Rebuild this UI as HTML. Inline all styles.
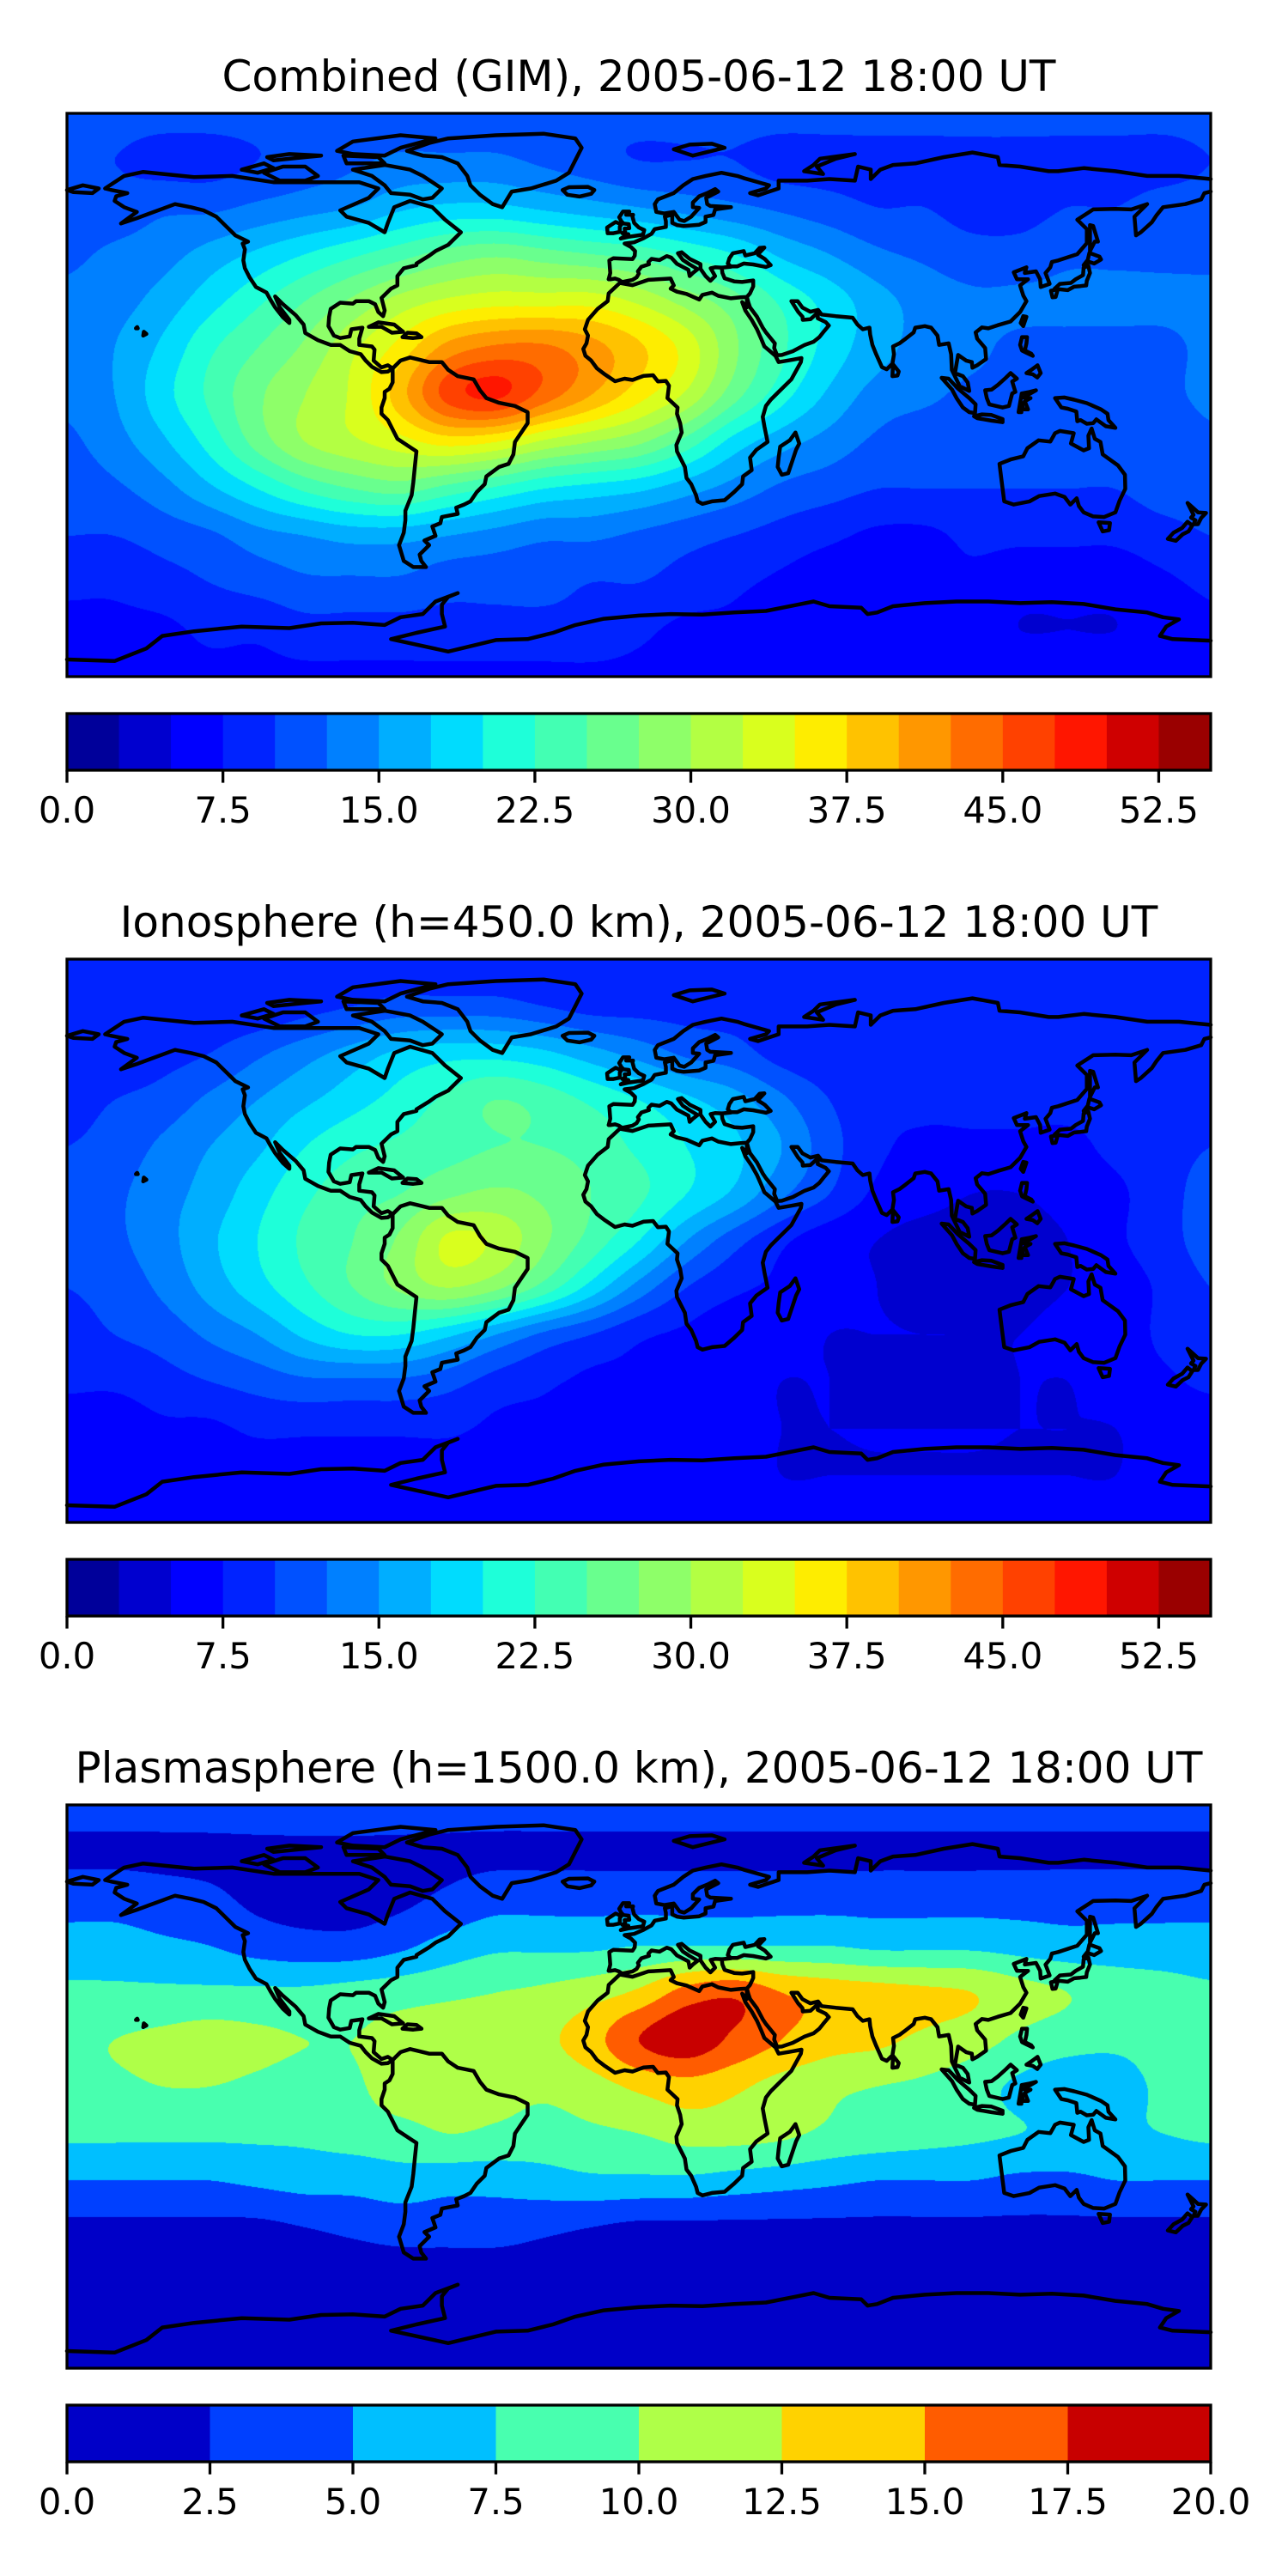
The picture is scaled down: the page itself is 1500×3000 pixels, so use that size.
<!DOCTYPE html>
<html><head><meta charset="utf-8">
<style>
html,body{margin:0;padding:0;background:#fff;}
#wrap{position:relative;width:1500px;height:3000px;overflow:hidden;}
canvas{position:absolute;left:78px;}
svg{position:absolute;left:0;top:0;}
text{font-family:"DejaVu Sans","Liberation Sans",sans-serif;fill:#000;}
</style></head>
<body>
<div id="wrap">
<canvas id="c0" width="1332" height="656" style="top:132px"></canvas>
<canvas id="c1" width="1332" height="656" style="top:1117px"></canvas>
<canvas id="c2" width="1332" height="656" style="top:2102px"></canvas>
<svg id="ov" width="1500" height="3000"></svg>
</div>
<script>
// ---- data ----
const titles = ["Combined (GIM), 2005-06-12 18:00 UT","Ionosphere  (h=450.0 km), 2005-06-12 18:00 UT","Plasmasphere (h=1500.0 km), 2005-06-12 18:00 UT"];
const levelsA = [0,2.5,5,7.5,10,12.5,15,17.5,20,22.5,25,27.5,30,32.5,35,37.5,40,42.5,45,47.5,50,52.5,55];
const levelsB = [0,2.5,5,7.5,10,12.5,15,17.5,20];
const ticksA = ["0.0","7.5","15.0","22.5","30.0","37.5","45.0","52.5"];
const tickValsA = [0,7.5,15,22.5,30,37.5,45,52.5];
const ticksB = ["0.0","2.5","5.0","7.5","10.0","12.5","15.0","17.5","20.0"];
const tickValsB = [0,2.5,5,7.5,10,12.5,15,17.5,20];
const gridLats = [90,75,60,45,30,15,0,-15,-30,-45,-60,-75,-90];
const gridLons = [-180,-165,-150,-135,-120,-105,-90,-75,-60,-45,-30,-15,0,15,30,45,60,75,90,105,120,135,150,165,180];
const tecCombined = [
[11,11,11,11,11,11,11,11,11,11,11,11,11,11,11,11,11,11,11,11,11,11,11,11,11],
[10,10,9,9,10,11,12,13,13,13,12,11,10,10,10,9,9,9,9,9,9,9,9,9,10],
[11,11,12,12,13,14,15,17,18,18,17,16,15,14,13,12,11,10,10,9,9,10,10,11,11],
[12,13,14,16,18,20,22,24,26,27,26,25,24,22,20,17,15,13,12,11,11,12,12,12,12],
[13,14,16,19,22,25,28,31,33,34,34,34,32,29,26,22,19,16,14,13,13,13,13,13,13],
[13,15,18,22,25,28,32,36,41,43,43,41,38,34,28,23,19,16,14,13,12,12,12,12,13],
[13,15,19,23,27,30,33,39,46,48,44,40,36,32,26,21,17,14,13,12,12,12,12,12,13],
[12,14,17,21,26,30,32,34,36,35,32,30,28,24,19,16,14,12,11,11,11,11,11,11,12],
[11,12,14,17,20,23,25,26,24,22,20,19,18,16,14,12,11,10,10,10,10,10,10,11,11],
[10,10,11,12,14,15,16,16,15,14,13,13,12,11,10,9,8,7,7,8,8,8,8,9,10],
[8,8,9,10,11,12,12,12,11,11,11,10,10,9,8,7,6,6,7,7,6,6,6,7,8],
[7,7,7,8,8,9,9,9,9,9,9,9,8,7,7,6,6,6,6,6,5,5,5,6,7],
[7,7,7,7,7,7,7,7,7,7,7,7,7,7,7,7,7,7,7,7,7,7,7,7,7]];
const tecIono = [
[8,8,8,8,8,8,8,8,8,8,8,8,8,8,8,8,8,8,8,8,8,8,8,8,8],
[8,8,8,8,8,9,10,11,11,11,10,9,9,9,9,9,8,8,8,8,8,8,8,8,8],
[8,8,9,10,12,14,16,18,19,19,18,16,14,12,11,9,8,8,8,8,8,8,8,8,8],
[9,10,11,13,15,17,19,21,23,25,24,22,20,18,16,13,10,8,8,8,8,8,8,9,9],
[10,11,13,15,17,20,22,23,24,25,25,24,22,20,18,15,11,8,7,7,7,7,8,9,10],
[11,12,14,16,19,22,24,25,27,28,27,25,23,20,17,13,10,7,6,5,5,6,7,9,11],
[11,12,14,17,20,23,25,28,33,32,28,24,20,15,11,8,6,5,4,4,4,5,7,9,11],
[10,11,13,16,19,22,25,28,30,28,24,19,14,10,8,7,6,5,4,4,4,5,6,8,10],
[9,10,11,13,15,18,20,20,18,15,12,10,8,7,6,6,5,5,5,5,5,6,6,8,9],
[8,8,9,10,11,12,12,12,11,9,8,7,7,6,6,5,5,4,4,4,5,5,6,7,8],
[6,6,7,7,8,8,8,8,8,7,7,7,6,6,6,5,5,5,5,5,5,5,5,6,6],
[6,6,6,6,6,6,6,6,6,6,6,6,6,6,6,5,5,5,5,5,5,5,5,6,6],
[6,6,6,6,6,6,6,6,6,6,6,6,6,6,6,6,6,6,6,6,6,6,6,6,6]];
const tecPlasma = [
[3.5,3.5,3.5,3.5,3.5,3.5,3.5,3.5,3.5,3.5,3.5,3.5,3.5,3.5,3.5,3.5,3.5,3.5,3.5,3.5,3.5,3.5,3.5,3.5,3.5],
[2,2,2,2,2,2,2,2,2,2,2,2,2,2,2,2,2,2,2,2,2,2,2,2,2],
[4,4,3.5,3,2,1.5,1.5,2,3,4,4,4,4,4,4,4,4,4,4,4,4,4,4,4,4],
[6,6,5.5,5,4,3.5,3.5,4.5,6,7,7,7,7.5,7.5,7.5,7.5,7.5,7,7,7,6.5,6,6,6,6],
[8,8,8,8,8,8,8.5,9,9.5,10,10.5,11.5,13,16,17,15,14,13.5,13,12.5,11,10,9,8.5,8],
[9.5,10,10.5,11,10.5,10,10,11,11.5,11.5,12,14,17.5,19,17,15,13.5,13,12,11,9.5,8.5,8,8.5,9.5],
[9,9.5,10,10,9.5,9,9.5,11.5,11.5,11,10.5,11.5,13,14,13,11.5,10.5,10,9.5,8.5,7,6,6.5,8,9],
[8,8,8,8,8,8,8.5,9,10,9.5,9,9.5,10,11,11,10.5,9.5,9,8.5,8,7.5,7,7,7.5,8],
[5,5,5,5,5.5,6,6,6.5,6,6,6.5,7,7,7,6.5,6,5.5,5,5,5,4.5,4.5,5,5,5],
[2,2,2,2,2,2.5,3,3.5,3.5,3.5,3,2.5,2,2,2,2,2,2,2,2,2,2,2,2,2],
[1.5,1.5,1.5,1.5,1.5,1.5,1.5,1.5,1.5,1.5,1.5,1.5,1.5,1.5,1.5,1.5,1.5,1.5,1.5,1.5,1.5,1.5,1.5,1.5,1.5],
[1.5,1.5,1.5,1.5,1.5,1.5,1.5,1.5,1.5,1.5,1.5,1.5,1.5,1.5,1.5,1.5,1.5,1.5,1.5,1.5,1.5,1.5,1.5,1.5,1.5],
[1.5,1.5,1.5,1.5,1.5,1.5,1.5,1.5,1.5,1.5,1.5,1.5,1.5,1.5,1.5,1.5,1.5,1.5,1.5,1.5,1.5,1.5,1.5,1.5,1.5]];

// coastlines [lon,lat]
const coasts = [
[[-168,66],[-162,70],[-156,71.3],[-140,69.6],[-128,70],[-115,68],[-95,68],[-88,68],[-82,66],[-85,63],[-94,59],[-92,57],[-85,55],[-80,52],[-79,55],[-77,60],[-72,62],[-65,60],[-61,56],[-56,52],[-60,48],[-64,46],[-66,44.5],[-70,42],[-70,41.5],[-74,40.5],[-76,38],[-76,35],[-78,34],[-81,31],[-80,27],[-80.5,25.2],[-82,26.5],[-83,29],[-85,30],[-89,30],[-90,29.2],[-94,29.5],[-97,27.5],[-97.5,25],[-97.7,22],[-96,19],[-94,18.2],[-91,18.7],[-90.5,21],[-87,21.5],[-88,18],[-88,16],[-84,15.5],[-83.2,14.5],[-83.5,11],[-81,8.8],[-79,9.5],[-77.5,8.5],[-79,7.5],[-81,7.3],[-84,9],[-86,11],[-87.5,13],[-91,14],[-94,16],[-97,16],[-101,17.5],[-105,19.8],[-105.5,22.5],[-108,25.5],[-112,29],[-114.5,31.5],[-113,28],[-110,24],[-110,23],[-112,24.8],[-114.5,28],[-116,30.5],[-117.2,32.7],[-120.5,34.5],[-122.5,37.5],[-124,40.5],[-124.5,43],[-124,46.5],[-124.7,48.4],[-123,49],[-127,51],[-130,54],[-133,57],[-137,59],[-141,60],[-146,61],[-150,59.5],[-154,58],[-158,56.5],[-163,54.8],[-158,58.5],[-162,60],[-165,62],[-164.5,63.5],[-161,64.5],[-166,65.5],[-168,66]],
[[-73,78],[-66,80.5],[-60,82],[-45,83],[-30,83.5],[-20,82],[-18,79],[-20,75],[-22,71],[-26,68.5],[-34,66],[-40,65],[-43,60],[-46,61],[-50,64],[-53,67],[-54,70],[-57,74],[-62,76],[-68,76.5],[-73,78]],
[[-62,66],[-65,63],[-68,62.5],[-72,64],[-78,64.5],[-80,67],[-84,70],[-90,72],[-80,73.5],[-72,72],[-68,70],[-62,66]],
[[-118,71],[-112,73],[-105,73],[-101,70],[-105,68.5],[-113,68.5],[-118,71]],
[[-90,77],[-80,76.5],[-75,79],[-64,82],[-75,83],[-90,81],[-95,78],[-90,77]],
[[-125,72],[-118,74],[-115,72.5],[-120,71],[-125,72]],
[[-92,74],[-80,74],[-82,76],[-93,76.5],[-92,74]],
[[-115,75],[-105,76],[-100,76.5],[-110,77],[-117,76],[-115,75]],
[[-77.5,8.5],[-75,11],[-72,12],[-70,11.5],[-66,10.5],[-62,10.5],[-60,8],[-57,6],[-52,5],[-50,1.5],[-48,-1],[-44,-2.5],[-39,-3.5],[-35,-5.5],[-35,-9],[-37,-12],[-39,-15],[-39.5,-19],[-41,-22],[-44,-23],[-48,-26],[-48.5,-28.5],[-51,-31],[-53,-34],[-55,-35],[-57.5,-36],[-57,-38],[-62,-39],[-62.5,-41],[-65,-42],[-64,-45],[-67.5,-46.5],[-66,-48],[-69,-51],[-68.5,-53],[-67,-55],[-71,-55],[-74,-53],[-75.5,-48],[-74,-44],[-73.5,-40],[-73.5,-37],[-71.5,-32],[-71,-28],[-70.5,-23],[-70,-18],[-71.5,-17],[-76,-14],[-79,-8],[-81,-6],[-81,-4],[-80,-1],[-80,1],[-78.5,2],[-77.5,4],[-77.5,7],[-77.5,8.5]],
[[-17,21],[-16,24],[-13,27.5],[-9.8,30],[-9.5,32.5],[-6,35.8],[-2,35.1],[3,36.8],[10,37.2],[11,35],[10,34],[12,33],[15,32.3],[19,30.5],[20,32],[23,32.7],[25,31.7],[29,30.9],[32,31.2],[34,31.3],[34,28],[32.5,29.7],[33.5,27],[35.5,24],[37.2,21],[38.5,18],[39.5,15.5],[43,12.5],[44,10.5],[48,11.2],[51.2,11.8],[51,10.5],[48,5],[44,1],[41.5,-1.5],[40,-3.5],[39,-7],[39.5,-10],[40.5,-15],[37,-17.5],[35,-20],[35.5,-24],[32.8,-26],[32.5,-28.5],[30,-31],[27,-33.6],[23,-34],[20,-34.8],[18.5,-34],[18,-32],[16.5,-28.5],[15,-26.5],[14.5,-23],[12,-18],[11.8,-16],[13.5,-12],[13,-9],[12,-6],[12.2,-4],[9,-1],[9.5,3],[8.5,4.5],[6,4.3],[4.5,6.3],[1.5,6.1],[-2,4.8],[-4.5,5.2],[-7.5,4.4],[-11,6.8],[-13.2,8.5],[-15,11],[-16.8,12.5],[-17.5,14.7],[-16.5,16.5],[-16,19],[-17,21]],
[[49.3,-12],[50.5,-15.5],[49.5,-17.5],[48,-22],[47,-25],[45,-25.5],[43.7,-23],[44,-20],[44.5,-16.5],[47.5,-14.5],[49.3,-12]],
[[-9.5,37],[-9,39],[-9.3,43],[-8,43.7],[-2,43.4],[-1.3,44.5],[-1.2,46],[-2.5,47.3],[-4.5,48.4],[-1.5,48.8],[1.5,50.1],[4,51.5],[5,53],[8.5,53.7],[8.5,55.5],[8.2,57],[10.5,57.7],[10.5,55],[12,54.3],[14,54],[19,54.4],[21,55.3],[21,57],[23.5,57.5],[24,59.3],[29,60],[22.5,60.4],[21.5,61],[21.2,63],[25,65],[24,65.8],[21.5,64.5],[19,63.5],[17,61.5],[17,60],[19,59.8],[16.5,57],[14.3,55.6],[12.8,56],[11,58.5],[8,58],[5.5,58.5],[5,61],[6,62.5],[11,64.5],[14,67],[17,69],[21,70],[26,71],[31,70],[33,69.3],[41,67],[40,66],[35,64.5],[37.5,63.8],[44,66],[44,68.5],[53,68.5],[60,69],[68,68.5],[69,73],[73,72],[73,69],[76,72],[80,73.5],[87,74],[96,76],[105,77.5],[113,76],[113.5,73.5],[120,73],[129,71.5],[132,71.5],[140,72.5],[150,71.5],[160,70],[170,70],[180,69]],
[[180,65],[178,64.5],[177,62.5],[172,61],[165,60],[163,57.5],[161.5,55.2],[158,52],[156.5,51],[156,57],[160,61],[155,59.3],[150,59.5],[143,59.3],[138,56],[141,53],[141,48.5],[138,45],[132,43],[130,42.5],[129.5,40.8],[128,39],[129.3,35.5],[126.5,34.5],[126.3,37],[125,39.5],[121.5,39],[122,40.8],[118,39.2],[119,37],[122.5,37],[120,35],[121,31.8],[122,30],[120,26.5],[117,23.5],[113,22.3],[110,21.3],[108,21.6],[106,20],[106.5,18],[109,15],[109.3,11.5],[106.5,9.5],[105,8.7],[104.8,10.5],[103,11],[100.5,12.8],[100,10],[99.5,7],[102,6],[103.5,4],[104,1.3],[101,2.8],[98.5,8],[98.3,13],[97.5,16.5],[94.5,16],[94,19],[92,21.5],[90,22],[87,21.5],[86.5,20],[84,18],[82,16.5],[80,15.5],[80.3,13],[79.8,10],[78,8.2],[76.5,8.9],[74.7,13],[73.5,16],[72.8,19.3],[72.6,21.5],[70.5,21],[68.8,22.5],[67.3,24.7],[62,25.2],[57.5,25.7],[56.4,27.2],[54,26.6],[51.5,27.9],[50,30],[48,30],[50.2,26.5],[51.5,25],[51.6,24],[54,24.2],[56.4,26.4],[56.3,24.5],[58.8,23.3],[59.8,22.2],[58,20],[56.8,18.5],[55,17],[52.2,16],[48.5,14],[45,12.8],[43.5,12.7],[42.6,15],[42.8,16.5],[40,20],[39,21.5],[37.2,25],[35,28],[34.5,29.5],[34,31.3],[35,32.5],[36,34.7],[36,36.6],[32.5,36.1],[30,36.3],[27,37.3],[26.3,39],[26.1,40.7],[29,41],[28,42],[28.5,43.7],[29.6,45.3],[33,46],[33.5,44.6],[36.5,45.3],[38,47],[39.5,47.1],[38,45.5],[37.5,44.8],[39.6,43.5],[41.5,41.5],[40,40.9],[36,41.7],[33,42],[31,41.1],[29,41.1],[26.5,40.7],[24,40.8],[22.6,40.5],[24,38],[22.5,36.5],[21,38],[19.4,40.3],[19.4,41.8],[16,43.5],[13.5,45.6],[12.3,45.3],[13.8,43.2],[16,41.7],[18.5,40.2],[17,39],[16,38],[15.6,40],[12,41.9],[10.2,43.9],[8.8,44.4],[6.5,43.1],[4,43.5],[3,42.5],[3.2,41.8],[0.8,41],[-0.3,39.5],[0,38.8],[-0.7,37.6],[-2,36.8],[-5.3,36.1],[-6.3,36.8],[-7.5,37.2],[-8.8,37],[-9.5,37]],
[[-180,65.5],[-175,67],[-170,66],[-172,64.5],[-178,64.8],[-180,65.5]],
[[-5.7,50],[-3,50.6],[1.3,51.2],[1.7,52.7],[0,53.5],[-1.5,55],[-2,57],[-1.8,57.6],[-4,57.6],[-3,58.6],[-5,58.6],[-6.2,56.8],[-5.5,55.5],[-4.8,54.8],[-3.2,54.6],[-3,53.3],[-4.5,53.2],[-4.3,52.3],[-5.2,51.7],[-3.3,51.4],[-5.7,50]],
[[-6,52.1],[-6,53.8],[-5.5,54.5],[-7.3,55.3],[-8.5,54.5],[-10,53.5],[-9.8,51.7],[-8,51.7],[-6,52.1]],
[[-22.5,64],[-24,65.5],[-22,66.4],[-16,66.5],[-14,65.5],[-15,64.3],[-18.7,63.4],[-22.5,64]],
[[11,78.5],[16,80],[23,80.3],[27,79],[17,76.5],[11,78.5]],
[[52,71.5],[55,73.5],[57,75.5],[68,77],[62,75.5],[56,73],[58,70.6],[52,71.5]],
[[130.9,34],[132.5,35.5],[136,35.8],[137.5,37],[139.8,38.3],[140,40.7],[141.5,41.3],[142,39],[141,36.5],[140.8,35],[139,34.8],[137,34.6],[135,33.5],[132,33.8],[130.9,34]],
[[140,41.5],[141.5,42.6],[143.3,42],[145.5,43.3],[145,44.2],[141.8,45.4],[141.3,43.2],[140,41.5]],
[[129.7,33.3],[131.9,33.8],[131.2,31.3],[130.2,31.2],[129.7,33.3]],
[[142,46],[143.5,49],[144.5,49],[143,54],[142,54.3],[142,50],[142,46]],
[[120.2,23],[121,25.2],[122,25],[121,22],[120.2,23]],
[[120,16],[120.6,18.5],[122.2,18.5],[122,16.5],[121.5,14.2],[123.5,13.2],[124,12.5],[122,13.5],[120.6,14.2],[120,16]],
[[122,7],[123.5,8],[125.5,9.5],[126.5,7],[125.4,5.6],[124,6.6],[122,7]],
[[95.3,5.5],[97.5,5.2],[100.5,2],[104,-1],[106,-3],[105.8,-5.8],[104,-5.5],[102,-4],[100,-1],[98.6,1.7],[95.3,5.5]],
[[105.5,-6.8],[108,-6.2],[111,-6.4],[114.5,-7.7],[114.5,-8.7],[111,-8.2],[106.5,-7.4],[105.5,-6.8]],
[[109,1.5],[109.5,-1],[110.3,-3],[114.5,-4],[116.5,-3.5],[117.5,0.5],[118.5,1],[117.5,4.3],[119,5.2],[117,7],[115.5,5.5],[113,3.2],[111,1.7],[109,1.5]],
[[119.5,-5.5],[120.5,0.5],[123,1],[125,1.5],[121,-0.8],[123.3,-1],[121.5,-2],[122.5,-4.6],[121,-4.6],[120.5,-2.5],[120.4,-5.5],[119.5,-5.5]],
[[131,-1],[134,-0.8],[137,-1.5],[141,-2.6],[145.5,-4.6],[147.5,-6],[147.8,-8],[150,-10.5],[147,-10],[144,-7.8],[143,-9],[141,-9.2],[139,-8],[138,-8.4],[137.7,-5.3],[135,-4.4],[133,-4],[132,-2.5],[131,-1]],
[[113.5,-22],[114,-26],[115,-34],[118,-35],[123,-34],[126,-32.3],[131,-31.5],[134,-32.6],[135.8,-35],[137.8,-33],[138.5,-35.5],[140,-37.5],[143,-38.8],[146.5,-39],[150,-37.5],[151.3,-33.8],[153.1,-30],[153,-25.5],[150.8,-22.5],[146,-19],[145.3,-15],[143.5,-14],[142.5,-10.7],[141.5,-13],[141.7,-17],[140,-17.7],[136,-15.5],[136.9,-12.2],[132.5,-11.5],[131,-12.2],[129.5,-14.9],[125.8,-14.5],[122.3,-17],[121,-19.6],[117,-20.6],[113.5,-22]],
[[144.7,-40.7],[148.3,-40.9],[148,-43.2],[146,-43.6],[144.7,-40.7]],
[[172.7,-34.5],[174.6,-36.2],[176,-37.5],[178.5,-37.7],[177,-39.3],[176,-41.3],[174.6,-41.3],[175.2,-40],[173.8,-39.2],[174.6,-38.3],[172.7,-34.5]],
[[172.7,-40.5],[174.2,-41.7],[173,-43.6],[171.2,-44.5],[169,-46.6],[166.5,-46],[168.3,-44],[171,-42.5],[172.7,-40.5]],
[[79.8,6],[80,9.8],[81.8,7.5],[81.4,6.2],[79.8,6]],
[[-85,21.8],[-82,23.2],[-77,22.5],[-74.2,20.2],[-77.7,19.9],[-81,21.8],[-85,21.8]],
[[-74.4,18.5],[-72.8,19.9],[-70,19.7],[-68.4,18.5],[-71,18.2],[-74.4,18.5]],
[[-156,19],[-155,19.5],[-155.8,20.2],[-156,19]],
[[-158.3,21.3],[-157.7,21.3],[-157.9,21.7],[-158.3,21.3]],
[[-180,-84.5],[-165,-85],[-155,-81],[-150,-77],[-140,-75.5],[-125,-74],[-110,-74.5],[-100,-73],[-90,-72.8],[-80,-73.5],[-75,-71],[-68,-70],[-64,-66],[-57,-63.3],[-60,-64.5],[-62,-67],[-62,-70],[-61,-74],[-70,-76],[-78,-78],[-60,-82],[-45,-78.3],[-35,-78],[-27,-76],[-20,-73.5],[-11,-71.5],[0,-70.5],[10,-70],[20,-70.2],[30,-69.5],[40,-69],[50,-67],[55,-66],[60,-67.5],[70,-68],[72,-70],[75,-69.5],[80,-67.5],[90,-66.5],[100,-66],[110,-66],[120,-66.5],[130,-66.2],[140,-66.8],[150,-68.5],[160,-69.5],[165,-71],[170,-71.7],[166,-74],[164,-77],[168,-78],[180,-78.5]]
];

// ---- layout ----
const X0 = 78, W = 1332, H = 656;
const tops = [132,1117,2102];
const cbTops = [831,1816,2801];
const CBH = 66;
const fields = [tecCombined, tecIono, tecPlasma];
const levelSets = [levelsA, levelsA, levelsB];
const tickSets = [ticksA, ticksA, ticksB];
const tickValSets = [tickValsA, tickValsA, tickValsB];

function interp(pts, t){
  for (let i=1;i<pts.length;i++){ if (t<=pts[i][0]){ const a=pts[i-1],b=pts[i]; return a[1]+(b[1]-a[1])*(t-a[0])/(b[0]-a[0]); } }
  return pts[pts.length-1][1];
}
function jet(t){
  const r=interp([[0,0],[0.35,0],[0.66,1],[0.89,1],[1,0.5]],t);
  const g=interp([[0,0],[0.125,0],[0.375,1],[0.64,1],[0.91,0],[1,0]],t);
  const b=interp([[0,0.5],[0.11,1],[0.34,1],[0.65,0],[1,0]],t);
  return [Math.round(r*255),Math.round(g*255),Math.round(b*255)];
}
function levelColors(levels){
  const n=levels.length-1, out=[];
  for (let k=0;k<n;k++) out.push(jet((k+0.5)/n));
  return out;
}
function cr(p0,p1,p2,p3,t){
  return p1+0.5*t*(p2-p0+t*(2*p0-5*p1+4*p2-p3+t*(3*(p1-p2)+p3-p0)));
}
function sample(grid, lat, lon){
  const nr=grid.length, nc=grid[0].length;
  const fi=(gridLats[0]-lat)/(gridLats[0]-gridLats[1]);
  const fj=(lon-gridLons[0])/(gridLons[1]-gridLons[0]);
  const i=Math.min(nr-2,Math.max(0,Math.floor(fi))), j=Math.min(nc-2,Math.max(0,Math.floor(fj)));
  const ti=fi-i, tj=fj-j;
  const cl=(v,m)=>Math.max(0,Math.min(m-1,v));
  const rows=[];
  for (let di=-1;di<=2;di++){
    const row=grid[cl(i+di,nr)];
    rows.push(cr(row[cl(j-1,nc)],row[j],row[j+1],row[cl(j+2,nc)],tj));
  }
  return cr(rows[0],rows[1],rows[2],rows[3],ti);
}
function drawField(idx){
  const cv=document.getElementById('c'+idx), ctx=cv.getContext('2d');
  const img=ctx.createImageData(W,H), d=img.data;
  const levels=levelSets[idx], cols=levelColors(levels), n=levels.length-1;
  const grid=fields[idx];
  for (let py=0;py<H;py++){
    const lat=90-(py+0.5)/H*180;
    for (let px=0;px<W;px++){
      const lon=-180+(px+0.5)/W*360;
      const v=sample(grid,lat,lon);
      let k=0; while(k<n-1 && v>=levels[k+1]) k++;
      const c=cols[k], o=(py*W+px)*4;
      d[o]=c[0]; d[o+1]=c[1]; d[o+2]=c[2]; d[o+3]=255;
    }
  }
  ctx.putImageData(img,0,0);
}
const NS='http://www.w3.org/2000/svg';
const ov=document.getElementById('ov');
function mk(tag, attrs, parent){
  const e=document.createElementNS(NS,tag);
  for (const k in attrs) e.setAttribute(k,attrs[k]);
  (parent||ov).appendChild(e); return e;
}
for (let m=0;m<3;m++){
  drawField(m);
  const top=tops[m];
  const g=mk('g',{});
  
  
  const t=mk('text',{x:X0+W/2,y:top-26,'text-anchor':'middle','font-size':50},g);
  t.textContent=titles[m];
  
  
  const cg=mk('g',{fill:'none',stroke:'#000','stroke-width':4.5,'stroke-linejoin':'round','stroke-linecap':'round'},g);
  
  
  const lx=lon=>X0+(lon+180)/360*W, ly=lat=>top+(90-lat)/180*H;
  coasts.forEach(poly=>{
    const p=mk('polyline',{points:poly.map(q=>lx(q[0]).toFixed(1)+','+ly(q[1]).toFixed(1)).join(' ')},cg);
    
    
  });
  const fr=mk('rect',{x:X0,y:top,width:W,height:H,fill:'none',stroke:'#000','stroke-width':3.3},g);
  
  
  const levels=levelSets[m], cols=levelColors(levels), n=levels.length-1;
  const lo=levels[0], hi=levels[n];
  const cx=v=>X0+(v-lo)/(hi-lo)*W;
  const cbt=cbTops[m];
  const cb=mk('g',{},g);
  
  
  for (let k=0;k<n;k++){
    const c=cols[k];
    const r=mk('rect',{x:cx(levels[k]),y:cbt,width:cx(levels[k+1])-cx(levels[k])+0.6,height:CBH,fill:'rgb('+c.join(',')+')'},cb);
    
    
  }
  const cf=mk('rect',{x:X0,y:cbt,width:W,height:CBH,fill:'none',stroke:'#000','stroke-width':3.3},cb);
  
  
  const tv=tickValSets[m], tl=tickSets[m];
  for (let i=0;i<tv.length;i++){
    const x=cx(tv[i]);
    const tk=mk('line',{x1:x,x2:x,y1:cbt+CBH,y2:cbt+CBH+14.6,stroke:'#000','stroke-width':3.3},cb);
    
    
    const lb=mk('text',{x:x,y:cbt+CBH+61,'text-anchor':'middle','font-size':41.7},cb);
    lb.textContent=tl[i];
    
    
  }
}
</script>
</body></html>
